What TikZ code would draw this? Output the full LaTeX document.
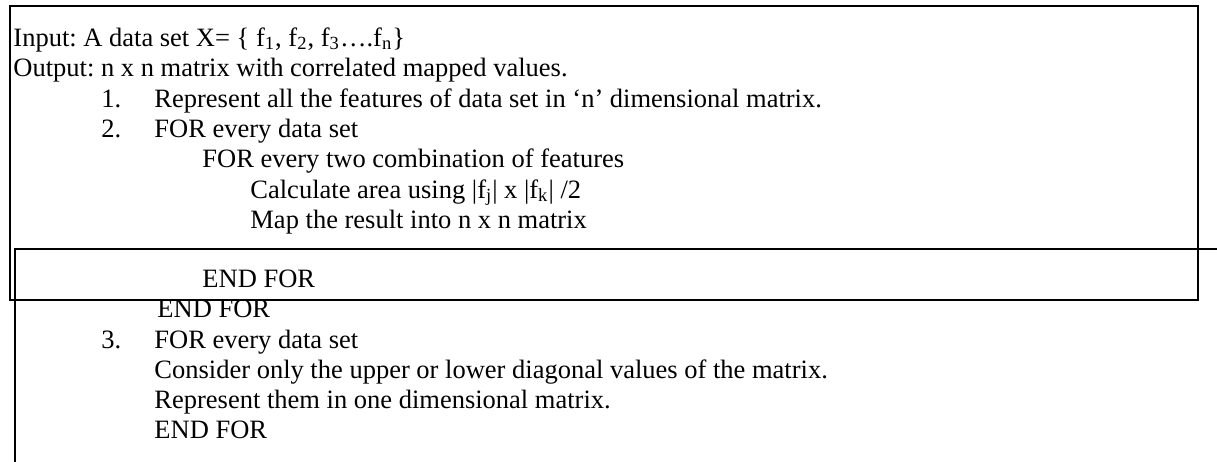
\documentclass[tikz,border=0pt]{standalone}
\usepackage{fontspec}
\setmainfont{Liberation Serif}
\frenchspacing
\begin{document}
\begin{tikzpicture}[x=0.4566pt,y=-0.4566pt]
\tikzstyle{every node}+=[inner sep=0pt,anchor=base west,font=\fontsize{12.1}{13.9}\selectfont]
\tikzstyle{frame}=[black,line width=0.9pt]
\useasboundingbox (0,0) rectangle (1217,461);
% lower box, cut off by the page
\begin{scope}
\clip (0,0) rectangle (1217,461);
\draw [frame] (15,475) -- (15,249) -- (1240,249);
\end{scope}
% upper box
\draw [frame] (10,6) rectangle (1198,300);
\draw (13,46) node (input) {Input: A data set X= \{ f\textsubscript{1}, f\textsubscript{2}, f\textsubscript{3}….f\textsubscript{n}\}};
\draw (13,76) node (output) {Output: n x n matrix with correlated mapped values.};
\draw (101,107) node (num1) {1.};
\draw (154,107) node (step1) {Represent all the features of data set in ‘n’ dimensional matrix.};
\draw (101,137) node (num2) {2.};
\draw (154,137) node (step2) {FOR every data set};
\draw (202,167) node (inner) {FOR every two combination of features};
\draw (250,198) node (calc) {Calculate area using |f\textsubscript{j}| x |f\textsubscript{k}| /2};
\draw (250,228) node (map) {Map the result into n x n matrix};
\draw (202,287) node (endinner) {END FOR};
\draw (157,317) node (endouter) {END FOR};
\draw (101,348) node (num3) {3.};
\draw (154,348) node (step3) {FOR every data set};
\draw (154,378) node (consider) {Consider only the upper or lower diagonal values of the matrix.};
\draw (154,408) node (onedim) {Represent them in one dimensional matrix.};
\draw (154,438) node (endstep3) {END FOR};
\end{tikzpicture}
\end{document}
